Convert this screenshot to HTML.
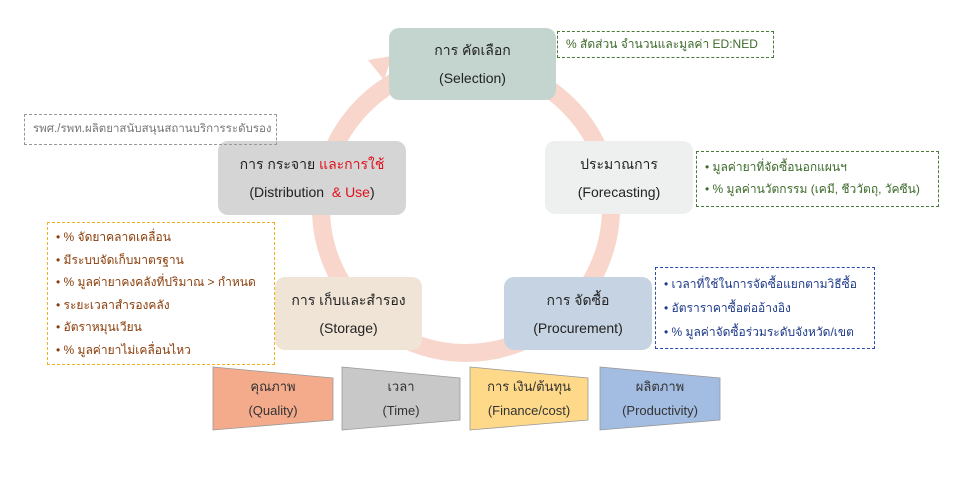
<!DOCTYPE html>
<html><head><meta charset="utf-8"><style>
body{margin:0;width:960px;height:483px;background:#fff;position:relative;overflow:hidden;font-family:"Liberation Sans","Noto Sans CJK SC",sans-serif;}
.b{position:absolute;border-radius:10px;display:flex;flex-direction:column;align-items:center;justify-content:center;font-size:14px;color:#222;line-height:28px;text-align:center;white-space:nowrap}
.n{position:absolute;font-size:12px;line-height:20px;padding:2px 8px;box-sizing:border-box;white-space:nowrap;overflow:hidden}
.t{position:absolute;font-size:13px;color:#333;text-align:center;line-height:24px;display:flex;flex-direction:column;justify-content:center}
.r{color:#e0101a}
</style></head><body>
<svg width="960" height="483" style="position:absolute;left:0;top:0">
<circle cx="466" cy="208" r="145" fill="none" stroke="#f8d6cc" stroke-width="18"/>
<polygon points="368,60 392,56 384,80" fill="#f8d6cc"/>
<polygon points="213,367 333,378 333,420 213,430" fill="#f4ab8c" stroke="#999" stroke-width="0.8"/>
<polygon points="342,367 460,378 460,420 342,430" fill="#c8c8c8" stroke="#999" stroke-width="0.8"/>
<polygon points="470,367 588,378 588,420 470,430" fill="#fed98a" stroke="#999" stroke-width="0.8"/>
<polygon points="600,367 720,378 720,420 600,430" fill="#a3bde2" stroke="#999" stroke-width="0.8"/>
</svg>
<div class="b" style="left:389px;top:28px;width:167px;height:72px;background:#c4d5d0"><div>การ คัดเลือก</div><div>(Selection)</div></div>
<div class="b" style="left:545px;top:141px;width:148px;height:73px;background:#eef0ef"><div>ประมาณการ</div><div>(Forecasting)</div></div>
<div class="b" style="left:504px;top:277px;width:148px;height:73px;background:#c6d3e2"><div>การ จัดซื้อ</div><div>(Procurement)</div></div>
<div class="b" style="left:275px;top:277px;width:147px;height:73px;background:#efe4d5"><div>การ เก็บและสำรอง</div><div>(Storage)</div></div>
<div class="b" style="left:218px;top:141px;width:188px;height:74px;background:#d5d5d5"><div>การ กระจาย <span class="r">และการใช้</span></div><div>(Distribution <span class="r">&nbsp;&amp; Use</span>)</div></div>
<div class="n" style="left:557px;top:31px;width:217px;height:27px;border:1px dashed #4a7a3a;color:#3d6a2a;">% สัดส่วน จำนวนและมูลค่า ED:NED</div>
<div class="n" style="left:696px;top:151px;width:243px;height:56px;border:1px dashed #4a7a3a;color:#3d6a2a;padding-top:4px;line-height:22px">• มูลค่ายาที่จัดซื้อนอกแผนฯ<br>• % มูลค่านวัตกรรม (เคมี, ชีววัตถุ, วัคซีน)</div>
<div class="n" style="left:655px;top:267px;width:220px;height:82px;border:1px dashed #2a4aa8;color:#1d3a8a;padding-top:4px;line-height:24px">• เวลาที่ใช้ในการจัดซื้อแยกตามวิธีซื้อ<br>• อัตราราคาซื้อต่ออ้างอิง<br>• % มูลค่าจัดซื้อร่วมระดับจังหวัด/เขต</div>
<div class="n" style="left:24px;top:114px;width:253px;height:31px;border:1px dashed #999;color:#777;line-height:25px;font-size:11.5px">รพศ./รพท.ผลิตยาสนับสนุนสถานบริการระดับรอง</div>
<div class="n" style="left:47px;top:222px;width:228px;height:143px;border:1px dashed #f0b020;color:#8a3d0a;line-height:22.5px;padding-top:3px">• % จัดยาคลาดเคลื่อน<br>• มีระบบจัดเก็บมาตรฐาน<br>• % มูลค่ายาคงคลังที่ปริมาณ &gt; กำหนด<br>• ระยะเวลาสำรองคลัง<br>• อัตราหมุนเวียน<br>• % มูลค่ายาไม่เคลื่อนไหว</div>
<div class="t" style="left:213px;top:370px;width:120px;height:58px">คุณภาพ<br>(Quality)</div>
<div class="t" style="left:342px;top:370px;width:118px;height:58px">เวลา<br>(Time)</div>
<div class="t" style="left:470px;top:370px;width:118px;height:58px">การ เงิน/ต้นทุน<br>(Finance/cost)</div>
<div class="t" style="left:600px;top:370px;width:120px;height:58px">ผลิตภาพ<br>(Productivity)</div>
</body></html>
